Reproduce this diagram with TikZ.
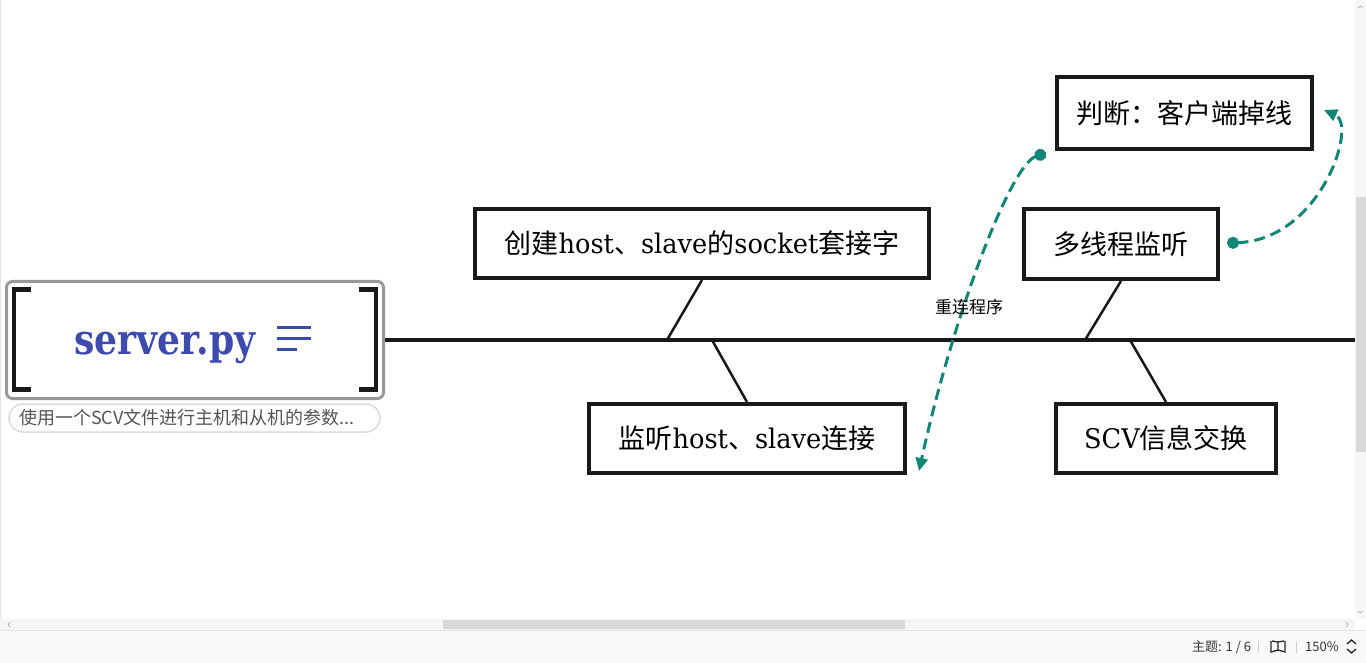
\documentclass[tikz,border=0pt]{standalone}
\usepackage{fontspec}
\usepackage{tikz}
\usetikzlibrary{arrows.meta, positioning}

\newfontfamily\cjk{Noto Sans CJK SC}
\newfontfamily\slab[FakeStretch=0.95]{DejaVu Serif}
\newfontfamily\rootfont[FakeStretch=0.86]{DejaVu Serif}
\newcommand{\ltn}[1]{{\slab #1}}

\definecolor{tealink}{RGB}{16,134,118}
\definecolor{rootblue}{RGB}{61,75,175}
\definecolor{uigray}{RGB}{217,217,217}

\begin{document}
\begin{tikzpicture}[x=1pt, y=-1pt,
			% Stile per i blocchi dei sottotemi
			block/.style={draw=black!90, rectangle, line width=4pt, inner sep=0pt, align=center, font={\cjk\fontsize{27}{32}\selectfont}},
			% Stile per i rami e la linea principale
			branch/.style={draw=black!90, line width=2.5pt},
			spine/.style={draw=black!90, line width=3.5pt},
			% Stile per le parentesi della radice
			bracket/.style={draw=black!90, line width=4.5pt, miter limit=10},
			% Stile per le frecce tratteggiate
			link/.style={tealink, line width=3pt, dash pattern=on 11pt off 6pt, {Circle[length=12pt]}-{Triangle[length=13pt, width=12pt]}},
			% Stile per la barra di stato
			ui/.style={font={\cjk\fontsize{13}{15}\selectfont}, text=black!80, inner sep=0pt}
			]
			\useasboundingbox (0,0) rectangle (1366,663);
			\fill[white] (0,0) rectangle (1366,663);
			\draw[black!10, line width=1pt] (0.5,0) -- (0.5,619);
			
			% --- RADICE (Sinistra) ---
			\node [draw=black!40, line width=3pt, rounded corners=6pt, minimum width=377pt, minimum height=117pt] (root) at (195,340) {};
			\draw [bracket] (31,289.5) -- (14,289.5) -- (14,389.5) -- (31,389.5);
			\draw [bracket] (359,289.5) -- (376,289.5) -- (376,389.5) -- (359,389.5);
			\node [text=rootblue, font={\rootfont\bfseries\fontsize{42}{46}\selectfont}] (title) at (165,348) {server.py};
			\draw [rootblue, line width=3pt] (277,327) -- (311,327) (277,338) -- (311,338) (277,349) -- (297,349);
			\node [draw=black!14, line width=1.5pt, rounded corners=14pt, minimum width=371pt, minimum height=28pt] (note) at (194.5,418) {};
			\node [anchor=west, text=black!67, inner sep=0pt, font={\cjk\fontsize{18}{20}\selectfont}] (notetext) at (19,418) {使用一个SCV文件进行主机和从机的参数...};
			
			% --- LINEA PRINCIPALE ---
			\coordinate (spineend) at (1356,340);
			\draw [spine] (root.east) -- (spineend);
			
			% --- SOTTOTEMI ---
			\node [block, minimum width=454pt, minimum height=69pt] (sock) at (702,243.5) {创建\ltn{host}、\ltn{slave}的\ltn{socket}套接字};
			\node [block, minimum width=316pt, minimum height=69pt] (listen) at (747,438.5) {监听\ltn{host}、\ltn{slave}连接};
			\node [block, minimum width=194pt, minimum height=70pt] (thread) at (1121,244) {多线程监听};
			\node [block, minimum width=220pt, minimum height=69pt] (scvx) at (1166,438.5) {\ltn{SCV}信息交换};
			\node [block, minimum width=255pt, minimum height=72pt] (drop) at (1184.5,113) {判断：客户端掉线};
			
			\coordinate (j1) at (667,340);
			\coordinate (j2) at (712,340);
			\coordinate (j3) at (1085,340);
			\coordinate (j4) at (1130,340);
			\draw [branch] (sock.south) -- (j1);
			\draw [branch] (j2) -- (listen.north);
			\draw [branch] (thread.south) -- (j3);
			\draw [branch] (j4) -- (scvx.north);
			
			% --- COLLEGAMENTI ---
			\coordinate (s1) at ([xshift=-9pt, yshift=-2pt]drop.south west);
			\coordinate (e1) at ([xshift=12pt, yshift=-32.5pt]listen.east);
			\coordinate (s2) at ([xshift=7pt, yshift=1pt]thread.east);
			\coordinate (e2) at ([xshift=10pt, yshift=3pt]drop.east);
			\draw [link] (s1) .. controls (1010,165) and (952,320) .. (e1);
			\draw [link] (s2) .. controls (1320,240) and (1358,125) .. (e2);
			\node [font={\cjk\fontsize{17}{20}\selectfont}, inner sep=0pt] (relabel) at (969,307) {重连程序};
			
			% --- BARRE DI SCORRIMENTO E DI STATO ---
			\fill [black!3] (1355,0) rectangle (1366,619);
			\fill [uigray] (1356,197) rectangle (1366,452);
			\fill [black!4] (0,619) rectangle (1355,630);
			\fill [uigray] (443,620) rectangle (905,629);
			\fill [black!2.5] (0,630) rectangle (1366,663);
			\draw [black!10, line width=1pt] (0,630) -- (1366,630);
			\draw [black!35, line width=0.6pt] (10,622) -- (8,624.5) -- (10,627) (1346,622) -- (1348,624.5) -- (1346,627);
			\draw [black!35, line width=0.6pt] (1358,8) -- (1360.5,6) -- (1363,8) (1358,611) -- (1360.5,613) -- (1363,611);
			\node [ui, anchor=west] (topic) at (1192,647) {主题: 1 / 6};
			\draw [black!20, line width=0.8pt] (1258,641) -- (1258,653) (1296,641) -- (1296,653);
			\draw [black!85, line width=1.3pt] (1271,641) -- (1271,652) -- (1278,650) -- (1285,652) -- (1285,641) (1278,642) -- (1278,650) (1272,641) -- (1278,642) -- (1284,641);
			\node [ui, anchor=west] (zoomlvl) at (1305,647) {150\%};
			\draw [black!85, line width=1.3pt] (1347,644) -- (1351.5,640) -- (1356,644) (1347,649) -- (1351.5,653) -- (1356,649);
			
		\end{tikzpicture}
\end{document}
